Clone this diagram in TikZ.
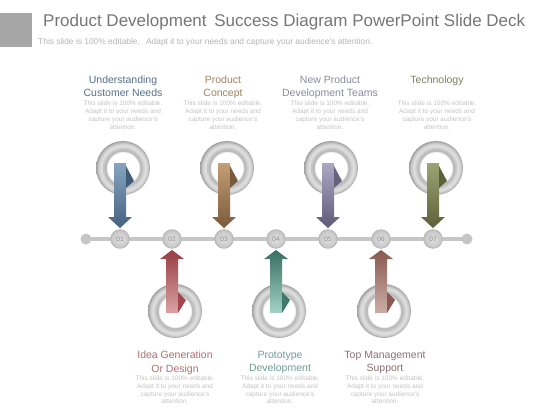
\documentclass[tikz,border=0pt]{standalone}
\usepackage{fontspec}
\setmainfont{Liberation Sans}
\definecolor{sqc}{HTML}{A6A6A6}
\definecolor{titlec}{HTML}{767676}
\definecolor{subc}{HTML}{B4B4B4}
\definecolor{descc}{HTML}{C4C4C4}
\definecolor{linec}{HTML}{C6C6C6}
\definecolor{numfillin}{HTML}{E2E2E2}
\definecolor{numfillout}{HTML}{C4C4C4}
\definecolor{numdraw}{HTML}{B6B6B6}
\definecolor{numtext}{HTML}{8A8A8A}
\definecolor{rg0}{HTML}{EEEEEE}
\definecolor{rg1}{HTML}{B2B2B2}
\definecolor{rg2}{HTML}{E2E2E2}
\definecolor{rg3}{HTML}{C6C6C6}
\definecolor{rg4}{HTML}{9E9E9E}
% title colours
\definecolor{tblue}{HTML}{56708A}
\definecolor{tbrown}{HTML}{A08262}
\definecolor{tpurple}{HTML}{8A8A9E}
\definecolor{tolive}{HTML}{7E8060}
\definecolor{tred}{HTML}{B06E70}
\definecolor{tteal}{HTML}{6E9E94}
\definecolor{tpink}{HTML}{8E7070}
% arrow colours
\definecolor{ablueT}{HTML}{86A4BF}\definecolor{ablueB}{HTML}{46627E}\definecolor{ablueF}{HTML}{3F5C78}
\definecolor{abrownT}{HTML}{C49E74}\definecolor{abrownB}{HTML}{7A5A3A}\definecolor{abrownF}{HTML}{7A5A3C}
\definecolor{apurpleT}{HTML}{ACA8C4}\definecolor{apurpleB}{HTML}{5E5A78}\definecolor{apurpleF}{HTML}{67637F}
\definecolor{aoliveT}{HTML}{9CA474}\definecolor{aoliveB}{HTML}{5C6038}\definecolor{aoliveF}{HTML}{5C6038}
\definecolor{aredT}{HTML}{983C42}\definecolor{aredB}{HTML}{DAA2A4}\definecolor{aredF}{HTML}{A0464C}
\definecolor{atealT}{HTML}{386E62}\definecolor{atealB}{HTML}{A4D2C6}\definecolor{atealF}{HTML}{3E7A6C}
\definecolor{apinkT}{HTML}{88584E}\definecolor{apinkB}{HTML}{CCAEA6}\definecolor{apinkF}{HTML}{8A5A50}
\pgfdeclareradialshading{ringshade}{\pgfpoint{0bp}{0bp}}{color(0bp)=(white); color(14.2bp)=(white); color(15bp)=(rg0); color(16bp)=(rg1); color(20.8bp)=(rg2); color(23.2bp)=(rg3); color(25bp)=(rg4); color(50bp)=(rg4)}
\tikzset{
  numc/.style={circle, minimum size=18.6pt, inner sep=0pt, shading=radial, inner color=numfillin, outer color=numfillout, draw=numdraw, line width=0.8pt, text=numtext, font=\fontsize{6.5}{7}\selectfont},
  enddot/.style={circle, minimum size=11pt, inner sep=0pt, fill=linec},
  ringnode/.style={circle, minimum size=54pt, inner sep=0pt, shade, shading=ringshade},
  ttl/.style={anchor=north, align=center, inner sep=0pt, font=\fontsize{10.5}{13.5}\selectfont},
  desc/.style={anchor=north, align=center, inner sep=0pt, text=descc, font=\fontsize{6.5}{7.8}\selectfont},
}
\newcommand\TopArrow[4]{%
  \shade[top color=#2, bottom color=#3] ({#1-6},163) -- ({#1+6},163) -- ({#1+6},217) -- ({#1+12},217) -- (#1,228) -- ({#1-12},217) -- ({#1-6},217) -- cycle;
  \fill[#4] ({#1+6},166) -- ({#1+14},181) -- ({#1+6},188) -- cycle;}
\newcommand\BotArrow[4]{%
  \shade[top color=#2, bottom color=#3] (#1,250) -- ({#1+12},259) -- ({#1+6},259) -- ({#1+6},313) -- ({#1-6},313) -- ({#1-6},259) -- ({#1-12},259) -- cycle;
  \fill[#4] ({#1+6},292) -- ({#1+14},300) -- ({#1+6},313) -- cycle;}
\newcommand\DescText{This slide is 100\% editable.\\Adapt it to your needs and\\capture your audience's\\attention.}
\begin{document}
\begin{tikzpicture}[x=1pt,y=-1pt]
\useasboundingbox (0,0) rectangle (560,420);
\fill[white] (0,0) rectangle (560,420);
% header
\fill[sqc] (0,12.7) rectangle (32,47.3);
\node[anchor=base west, inner sep=0pt, text=titlec, font=\fontsize{17}{20}\selectfont] (title) at (43,26.7) {Product Development\hspace{3pt} Success Diagram PowerPoint Slide Deck};
\node[anchor=base west, inner sep=0pt, text=subc, font=\fontsize{8.4}{9}\selectfont] (sub) at (38,45) {This slide is 100\% editable.\hspace{3pt} Adapt it to your needs and capture your audience's attention.};
% timeline
\coordinate (L) at (86,239);
\coordinate (R) at (467,239);
\draw[linec, line width=4pt] (L) -- (R);
\node[enddot] (dl) at (L) {};
\node[enddot] (dr) at (R) {};
% rings
\node[ringnode] (r1) at (123,168) {};
\node[ringnode] (r3) at (227,168) {};
\node[ringnode] (r5) at (331,168) {};
\node[ringnode] (r7) at (436,168) {};
\node[ringnode] (r2) at (175,311) {};
\node[ringnode] (r4) at (279,311) {};
\node[ringnode] (r6) at (384,311) {};
% arrows
\TopArrow{120}{ablueT}{ablueB}{ablueF}
\TopArrow{224}{abrownT}{abrownB}{abrownF}
\TopArrow{328}{apurpleT}{apurpleB}{apurpleF}
\TopArrow{433}{aoliveT}{aoliveB}{aoliveF}
\BotArrow{172}{aredT}{aredB}{aredF}
\BotArrow{276}{atealT}{atealB}{atealF}
\BotArrow{381}{apinkT}{apinkB}{apinkF}
% number circles
\node[numc] (n1) at (120,239) {01};
\node[numc] (n2) at (172,239) {02};
\node[numc] (n3) at (224,239) {03};
\node[numc] (n4) at (276,239) {04};
\node[numc] (n5) at (328,239) {05};
\node[numc] (n6) at (381,239) {06};
\node[numc] (n7) at (433,239) {07};
% top labels
\node[ttl, text=tblue] (t1) at (123,75.5) {Understanding\\Customer Needs};
\node[ttl, text=tbrown] (t3) at (223,75.5) {Product\\Concept};
\node[ttl, text=tpurple] (t5) at (330,75.5) {New Product\\Development Teams};
\node[ttl, text=tolive] (t7) at (437,75.5) {Technology};
\node[desc] (d1) at (123,101) {\DescText};
\node[desc] (d3) at (223,101) {\DescText};
\node[desc] (d5) at (330,101) {\DescText};
\node[desc] (d7) at (437,101) {\DescText};
% bottom labels
\node[ttl, text=tred] (t2) at (175,351) {Idea Generation\\Or Design};
\node[ttl, text=tteal] (t4) at (280,351) {Prototype\\Development};
\node[ttl, text=tpink] (t6) at (385,351) {Top Management\\Support};
\node[desc] (d2) at (175,375.5) {\DescText};
\node[desc] (d4) at (280,375.5) {\DescText};
\node[desc] (d6) at (385,375.5) {\DescText};
\end{tikzpicture}
\end{document}
